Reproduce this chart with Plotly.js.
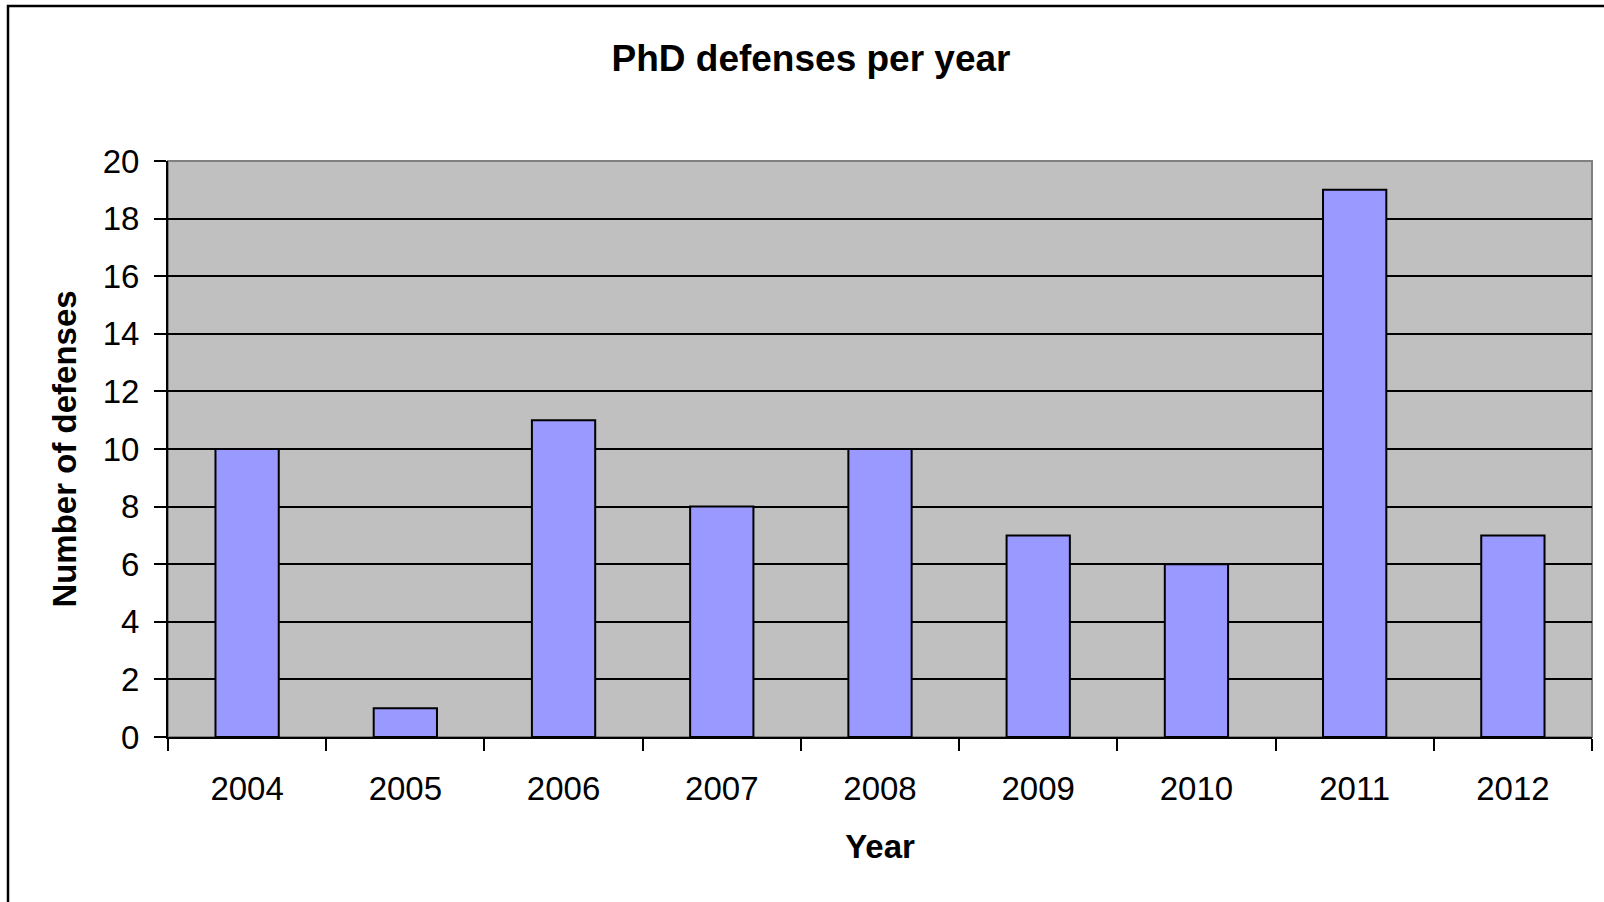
<!DOCTYPE html>
<html>
<head>
<meta charset="utf-8">
<script src="https://cdn.plot.ly/plotly-3.0.1.min.js"></script>
<style>
html,body{margin:0;padding:0;background:#fff;}
#chart{width:1604px;height:902px;}
</style>
</head>
<body>
<div id="chart"></div>
<script>
const years = ["2004","2005","2006","2007","2008","2009","2010","2011","2012"];
const defenses = [10, 1, 11, 8, 10, 7, 6, 19, 7];
const yTicks = [0,2,4,6,8,10,12,14,16,18,20];

const L = 168, R = 12, T = 161, B = 165;
const W = 1604 - L - R, H = 902 - T - B;

const trace = {
  type: 'bar',
  x: years,
  y: defenses,
  width: 0.4,
  marker: {color: '#9999FF', line: {color: '#000000', width: 2}},
  hoverinfo: 'x+y'
};

const font = {family: '"Liberation Sans", Arial, sans-serif', color: '#000'};

const layout = {
  width: 1604, height: 902,
  margin: {l: L, r: R, t: T, b: B, pad: 0},
  paper_bgcolor: '#ffffff',
  plot_bgcolor: '#C0C0C0',
  showlegend: false,
  font: Object.assign({size: 33}, font),
  title: {
    text: '<b>PhD defenses per year</b>',
    font: Object.assign({}, font, {size: 37}),
    xref: 'container', yref: 'container',
    x: 811/1604, xanchor: 'center',
    y: 1 - 58/902, yanchor: 'middle'
  },
  xaxis: {
    type: 'category',
    range: [-0.5, 8.5],
    showgrid: false,
    zeroline: false,
    showline: true, linecolor: '#000', linewidth: 2,
    ticks: 'outside', tickson: 'boundaries', ticklen: 12, tickwidth: 2, tickcolor: '#000',
    ticklabelstandoff: 21,
    tickfont: Object.assign({size: 33}, font),
    title: {text: '<b>Year</b>', font: Object.assign({size: 33}, font), standoff: 29}
  },
  yaxis: {
    range: [0, 20],
    tickvals: yTicks,
    ticktext: yTicks.map(String),
    showgrid: true, gridcolor: '#000', gridwidth: 2,
    zeroline: false,
    showline: true, linecolor: '#000', linewidth: 2,
    ticks: 'outside', ticklen: 12, tickwidth: 2, tickcolor: '#000',
    ticklabelstandoff: 8,
    tickfont: Object.assign({size: 33}, font),
    title: {text: '<b>Number of defenses</b>', font: Object.assign({size: 33}, font), standoff: 16}
  },
  shapes: [
    {type: 'rect', xref: 'paper', yref: 'paper', x0: 0, x1: 1, y0: 0, y1: 1,
     line: {color: '#808080', width: 2}, layer: 'below'},
    {type: 'rect', xref: 'paper', yref: 'paper',
     x0: (8 - L) / W, x1: (1604 + 20 - L) / W,
     y0: -(B + 20) / H, y1: (902 - B - 6) / H,
     line: {color: '#000', width: 2.5}, fillcolor: 'rgba(0,0,0,0)', layer: 'above'}
  ]
};

Plotly.newPlot('chart', [trace], layout, {displayModeBar: false, staticPlot: true});
</script>
</body>
</html>
